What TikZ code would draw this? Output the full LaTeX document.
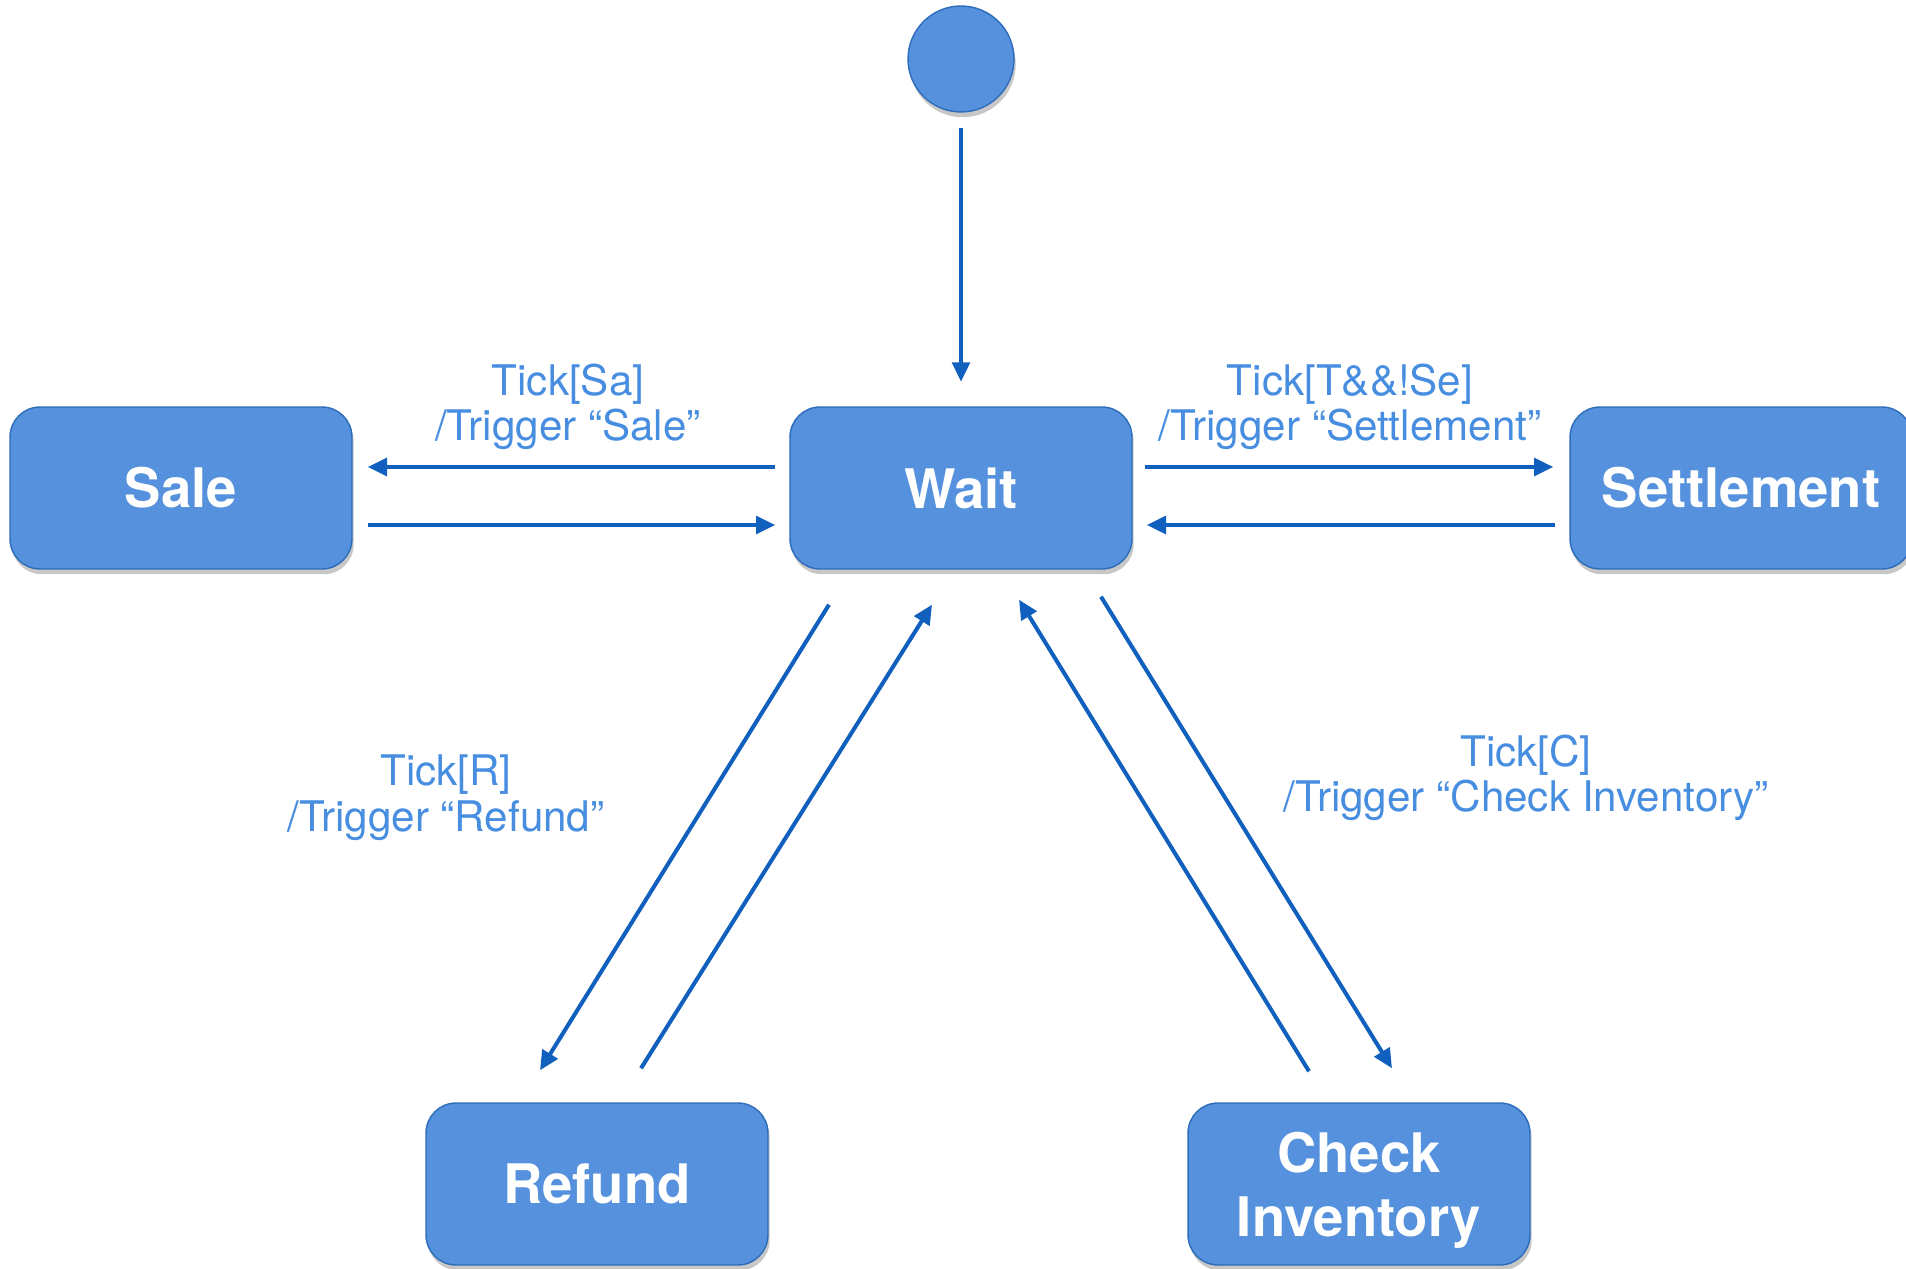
\documentclass[tikz,border=0pt]{standalone}
\usepackage{fontspec}
\setmainfont{TeX Gyre Heros}
\usetikzlibrary{arrows.meta,calc,shadows}
\definecolor{boxfill}{RGB}{85,145,220}
\definecolor{boxline}{RGB}{45,108,186}
\definecolor{arrowblue}{RGB}{18,96,190}
\definecolor{lblblue}{RGB}{72,142,224}
\begin{document}
\begin{tikzpicture}[x=0.02cm,y=0.02cm,
    stbox/.style={draw=boxline, fill=boxfill, line width=0.8pt, rounded corners=0.6cm,
        minimum width=6.84cm, minimum height=3.24cm, text=white, align=center,
        font=\fontsize{31}{36}\selectfont\bfseries,
        drop shadow={shadow xshift=1pt, shadow yshift=-3pt, fill=black, opacity=0.22}},
    trans/.style={draw=arrowblue, line width=2.3pt, -{Triangle[width=10pt,length=11pt]}},
    lbl/.style={text=lblblue, align=center, font=\fontsize{24}{26}\selectfont}]
    \useasboundingbox (0,0) rectangle (1906,1268);

    % states
    \node[circle, draw=boxline, fill=boxfill, line width=0.8pt, minimum size=2.12cm,
        drop shadow={shadow xshift=1pt, shadow yshift=-3pt, fill=black, opacity=0.22}] (init) at (961,1209) {};
    \node[stbox] (wait) at (961,780) {Wait};
    \node[stbox] (sale) at (181,780) {Sale};
    \node[stbox] (settle) at (1741,780) {Settlement};
    \node[stbox] (refund) at (597,84) {Refund};
    \node[stbox] (check) at (1359,84) {\rule{0pt}{30pt}Check\\Inventory};

    % transitions
    \draw[trans, shorten <=9pt, shorten >=14pt] (init) -- (wait);

    \draw[trans] ($(wait.west)+(-14,21)$) -- ($(sale.east)+(15,21)$);
    \draw[trans] ($(sale.east)+(15,-37)$) -- ($(wait.west)+(-14,-37)$);
    \draw[trans] ($(wait.east)+(12,21)$) -- ($(settle.west)+(-16,21)$);
    \draw[trans] ($(settle.west)+(-14,-37)$) -- ($(wait.east)+(14,-37)$);

    \draw[trans] ($(wait.south)+(-132,-35)$) -- ($(refund.north)+(-57,32)$);
    \draw[trans] ($(refund.north)+(44,34)$) -- ($(wait.south)+(-29,-35)$);
    \draw[trans] ($(check.north)+(-50,31)$) -- ($(wait.south)+(58,-30)$);
    \draw[trans] ($(wait.south)+(140,-27)$) -- ($(check.north)+(33,34)$);

    % guards
    \node[lbl] (lsale) at (568,861) {Tick[Sa]\\/Trigger “Sale”};
    \node[lbl] (lsettle) at (1350,861) {Tick[T\&\&!Se]\\/Trigger “Settlement”};
    \node[lbl] (lrefund) at (446,470) {Tick[R]\\/Trigger “Refund”};
    \node[lbl] (lcheck) at (1526,490) {Tick[C]\\/Trigger “Check Inventory”};
\end{tikzpicture}
\end{document}
